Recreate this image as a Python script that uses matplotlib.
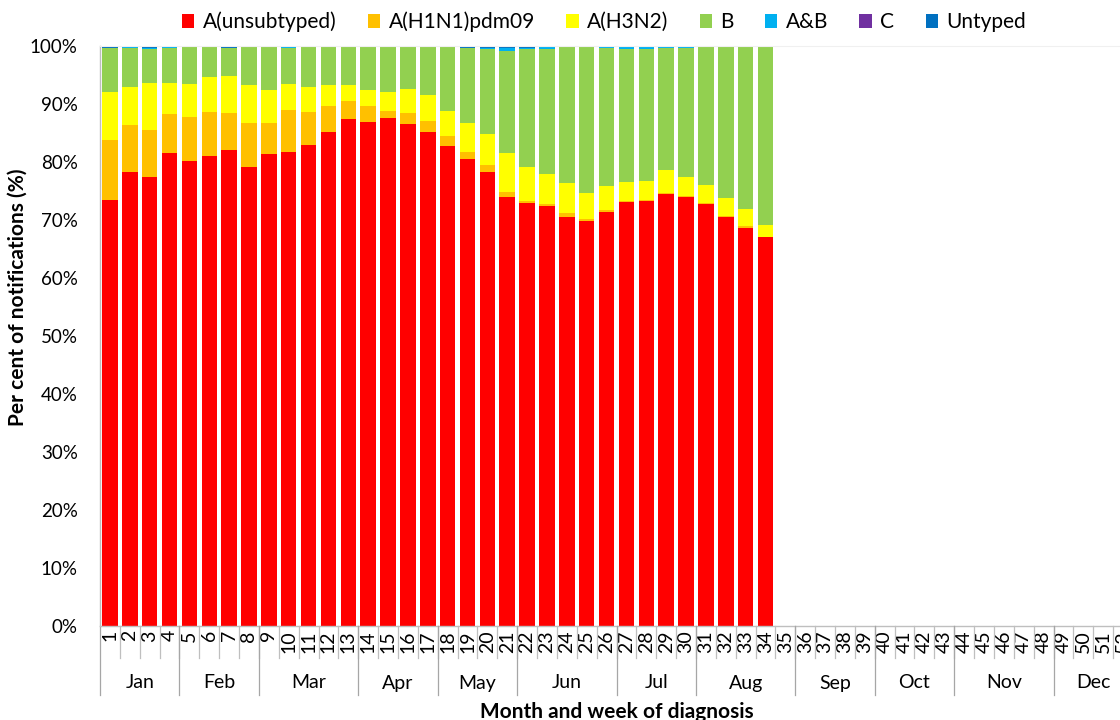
import matplotlib
matplotlib.use("Agg")
import matplotlib.pyplot as plt
import numpy as np

plt.rcParams['font.family'] = ['Lato', 'DejaVu Sans']

# ---------------- data ----------------
weeks_all = list(range(1, 53))
weeks_data = list(range(1, 35))

a_unsubtyped = [73.4, 78.2, 77.4, 81.6, 80.1, 81.1, 82.0, 79.1, 81.3, 81.7,
                82.9, 85.1, 87.4, 86.9, 87.6, 86.6, 85.1, 82.8, 80.5, 78.3,
                74.0, 73.0, 72.4, 70.6, 69.8, 71.3, 73.1, 73.2, 74.4, 74.0,
                72.7, 70.6, 68.7, 67.0]
a_h1n1 = [10.4, 8.2, 8.1, 6.7, 7.7, 7.6, 6.4, 7.6, 5.5, 7.2,
          5.7, 4.5, 3.1, 2.7, 1.2, 1.8, 2.0, 1.7, 1.3, 1.2,
          0.9, 0.3, 0.3, 0.6, 0.4, 0.4, 0.2, 0.2, 0.2, 0.2,
          0.2, 0.1, 0.2, 0.1]
a_h3n2 = [8.3, 6.6, 8.1, 5.3, 5.6, 5.9, 6.5, 6.5, 5.7, 4.6,
          4.3, 3.6, 2.7, 2.8, 3.2, 4.2, 4.5, 4.3, 5.0, 5.4,
          6.7, 5.9, 5.3, 5.1, 4.4, 4.2, 3.3, 3.3, 4.0, 3.3,
          3.1, 3.1, 3.0, 2.0]
b = [7.5, 6.7, 5.9, 6.1, 6.5, 5.3, 4.8, 6.6, 7.4, 6.2,
     6.9, 6.6, 6.6, 7.4, 7.8, 7.2, 8.3, 11.0, 12.9, 14.6,
     17.6, 20.2, 21.5, 23.5, 25.2, 23.8, 22.9, 22.7, 21.1, 22.2,
     23.8, 26.0, 27.9, 30.7]
a_and_b = [0.1, 0.2, 0.1, 0.3, 0.1, 0.0, 0.0, 0.0, 0.1, 0.3,
           0.1, 0.2, 0.2, 0.2, 0.2, 0.2, 0.0, 0.2, 0.0, 0.2,
           0.4, 0.3, 0.3, 0.2, 0.2, 0.2, 0.5, 0.5, 0.3, 0.3,
           0.2, 0.2, 0.2, 0.2]
c = [0.0, 0.0, 0.0, 0.0, 0.0, 0.1, 0.0, 0.0, 0.0, 0.0,
     0.0, 0.0, 0.0, 0.0, 0.0, 0.0, 0.1, 0.0, 0.0, 0.0,
     0.0, 0.0, 0.0, 0.0, 0.0, 0.0, 0.0, 0.0, 0.0, 0.0,
     0.0, 0.0, 0.0, 0.0]
untyped = [0.3, 0.1, 0.4, 0.0, 0.0, 0.0, 0.3, 0.2, 0.0, 0.0,
           0.1, 0.0, 0.0, 0.0, 0.0, 0.0, 0.0, 0.0, 0.3, 0.3,
           0.4, 0.3, 0.2, 0.0, 0.0, 0.1, 0.0, 0.1, 0.0, 0.0,
           0.0, 0.0, 0.0, 0.0]

series_names = ["A(unsubtyped)", "A(H1N1)pdm09", "A(H3N2)", "B", "A&B", "C", "Untyped"]
series_values = [a_unsubtyped, a_h1n1, a_h3n2, b, a_and_b, c, untyped]
series_colors = ["#FF0000", "#FFC000", "#FFFF00", "#92D050", "#00B0F0", "#7030A0", "#0070C0"]

months = ["Jan", "Feb", "Mar", "Apr", "May", "Jun", "Jul", "Aug", "Sep", "Oct", "Nov", "Dec"]
weeks_per_month = [4, 4, 5, 4, 4, 5, 4, 5, 4, 4, 5, 4]

yticks = list(range(0, 101, 10))

# ---------------- figure ----------------
W, H = 1120, 720
fig = plt.figure(figsize=(W / 100, H / 100), dpi=100)
ax_left, ax_right, ax_top, ax_bottom = 100, 1133, 46, 626
ax = fig.add_axes([ax_left / W, 1 - ax_bottom / H, (ax_right - ax_left) / W,
                   (ax_bottom - ax_top) / H])

bottom = np.zeros(len(weeks_data))
handles = []
for name, vals, col in zip(series_names, series_values, series_colors):
    v = np.array(vals)
    h = ax.bar(weeks_data, v, bottom=bottom, width=0.78, color=col, label=name,
               edgecolor='none', linewidth=0)
    handles.append(h)
    bottom += v

ax.set_xlim(0.5, len(weeks_all) + 0.5)
ax.set_ylim(0, 100)
ax.set_yticks(yticks)
ax.set_yticklabels([f"{t}%" for t in yticks], fontsize=13.5, color='#000000')
ax.tick_params(axis='y', length=0, pad=16)

ax.set_xticks(weeks_all)
ax.set_xticklabels([str(w) for w in weeks_all], rotation=90, fontsize=14)
ax.tick_params(axis='x', length=0, pad=3)

for s in ['right', 'bottom']:
    ax.spines[s].set_visible(False)
ax.spines['top'].set_color('#f0f0f0')
ax.spines['top'].set_linewidth(0.8)
ax.spines['left'].set_color('#bfbfbf')
ax.spines['left'].set_linewidth(1.0)

trans = ax.get_xaxis_transform()
axh = ax_bottom - ax_top
week_line_y = -(658 - ax_bottom) / axh
month_line_y = -(695 - ax_bottom) / axh
month_label_y = -(683 - ax_bottom) / axh

ax.plot([0.5, len(weeks_all) + 0.5], [0, 0], color='#bfbfbf', lw=1.0,
        transform=trans, clip_on=False)
for w in weeks_all:
    ax.plot([w + 0.5, w + 0.5], [0, week_line_y], color='#bfbfbf', lw=0.9,
            transform=trans, clip_on=False)

start = 0.5
ax.plot([start, start], [0, month_line_y], color='#a6a6a6', lw=0.9,
        transform=trans, clip_on=False)
for m, n in zip(months, weeks_per_month):
    end = start + n
    ax.plot([end, end], [0, month_line_y], color='#a6a6a6', lw=0.9,
            transform=trans, clip_on=False)
    ax.text((start + end) / 2, month_label_y, m, transform=trans, ha='center',
            va='center', fontsize=14)
    start = end

ax.text(0.5, -(712 - ax_bottom) / axh, "Month and week of diagnosis",
        transform=ax.transAxes, ha='center', va='center', fontsize=15,
        fontweight='bold')
fig.text(18 / W, 1 - 297 / H, "Per cent of notifications (%)", rotation=90,
         ha='center', va='center', fontsize=15, fontweight='bold')

fig.legend(handles=handles, labels=series_names, loc='center',
           bbox_to_anchor=(604 / W, 1 - 22 / H), ncol=7, frameon=False,
           fontsize=15, handlelength=0.6, handleheight=0.6,
           handletextpad=0.4, columnspacing=1.5)

fig.savefig("out.png", dpi=100)
